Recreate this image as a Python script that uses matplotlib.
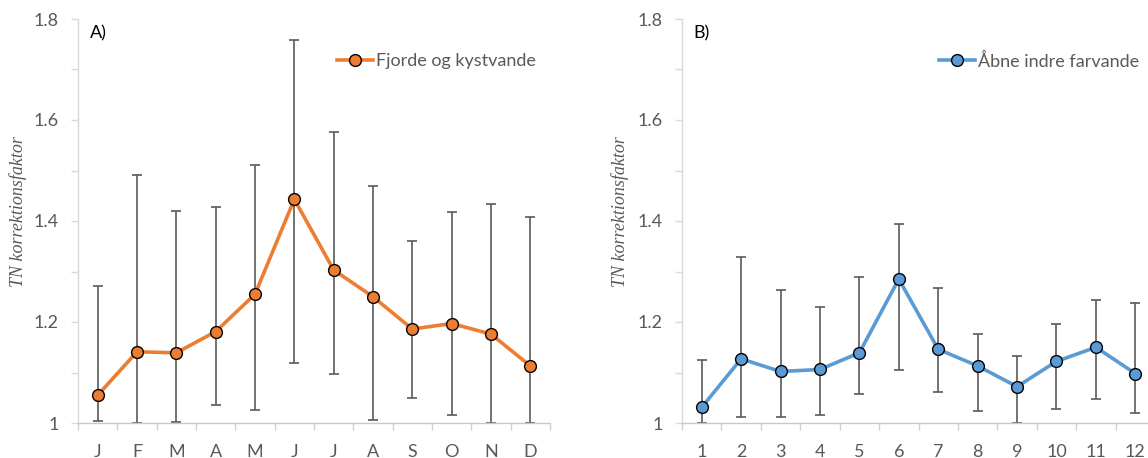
import numpy as np
import matplotlib
matplotlib.use("Agg")
import matplotlib.pyplot as plt
from matplotlib.ticker import MultipleLocator, FixedLocator, FuncFormatter

# TN correction factor per month, mean with lower/upper range
months_a = ['J', 'F', 'M', 'A', 'M', 'J', 'J', 'A', 'S', 'O', 'N', 'D']
fjord_mean = [1.055, 1.141, 1.139, 1.181, 1.255, 1.443, 1.303, 1.250, 1.186, 1.197, 1.176, 1.113]
fjord_hi = [1.271, 1.491, 1.420, 1.428, 1.511, 1.758, 1.576, 1.469, 1.360, 1.418, 1.434, 1.407]
fjord_lo = [1.003, 1.000, 1.002, 1.035, 1.025, 1.118, 1.098, 1.006, 1.049, 1.016, 1.000, 1.000]

months_b = ['1', '2', '3', '4', '5', '6', '7', '8', '9', '10', '11', '12']
open_mean = [1.031, 1.127, 1.102, 1.106, 1.139, 1.285, 1.146, 1.113, 1.072, 1.122, 1.150, 1.098]
open_hi = [1.124, 1.328, 1.263, 1.230, 1.289, 1.395, 1.267, 1.176, 1.133, 1.197, 1.244, 1.237]
open_lo = [1.000, 1.011, 1.011, 1.015, 1.057, 1.104, 1.061, 1.024, 1.000, 1.028, 1.048, 1.020]

ORANGE = '#ED7D31'
BLUE = '#5B9BD5'
TXT = '#595959'

plt.rcParams['font.family'] = ['Lato', 'DejaVu Sans']

W, H = 1148, 458
fig = plt.figure(figsize=(W / 100, H / 100), dpi=100)


def panel(x0, x1, cats, mean, lo, hi, color, name, tag, leg_x):
    ax = fig.add_axes([x0 / W, (H - 423) / H, (x1 - x0) / W, 404 / H])
    x = np.arange(len(cats))
    mean = np.array(mean)
    err = [mean - np.array(lo), np.array(hi) - mean]
    ax.errorbar(x, mean, yerr=err, fmt='none', ecolor='#5a5a5a', elinewidth=1.2,
                capsize=3.5, capthick=1.2, zorder=2)
    ax.plot(x, mean, color=color, lw=2.6, marker='o', ms=8.5, mfc=color,
            mec='black', mew=1.0, zorder=3, label=name)

    ax.set_xlim(-0.5, len(cats) - 0.5)
    ax.set_ylim(1.0, 1.8)

    # y axis: ticks every 0.1, labels every 0.2
    ax.yaxis.set_major_locator(MultipleLocator(0.2))
    ax.yaxis.set_minor_locator(MultipleLocator(0.1))
    ax.yaxis.set_major_formatter(FuncFormatter(lambda v, p: ('%.1f' % v).rstrip('0').rstrip('.')))
    ax.tick_params(axis='y', which='both', direction='out', length=5, width=1,
                   color='#d9d9d9', labelcolor=TXT, labelsize=13, pad=9)

    # x axis: category labels, tick marks between categories
    ax.set_xticks(x)
    ax.set_xticklabels(cats)
    ax.xaxis.set_minor_locator(FixedLocator(np.arange(-0.5, len(cats), 1.0)))
    ax.tick_params(axis='x', which='major', length=0, labelcolor=TXT, labelsize=13, pad=15)
    ax.tick_params(axis='x', which='minor', direction='out', length=5, width=1, color='#d0d0d0')

    for s in ['top', 'right']:
        ax.spines[s].set_visible(False)
    ax.spines['left'].set_color('#d9d9d9')
    ax.spines['bottom'].set_color('#c8c8c8')
    ax.spines['left'].set_linewidth(1)
    ax.spines['bottom'].set_linewidth(1)

    ax.text(0.025, 0.965, tag, transform=ax.transAxes, fontsize=13, color='black',
            ha='left', va='center')

    ax.legend(loc='center left', bbox_to_anchor=(leg_x, 0.896), frameon=False,
              fontsize=13, handlelength=2.0, handletextpad=0.15, borderpad=0,
              borderaxespad=0, labelcolor=TXT)
    return ax


panel(78, 550, months_a, fjord_mean, fjord_lo, fjord_hi, ORANGE,
      'Fjorde og kystvande', 'A)', 0.549)
panel(682, 1155, months_b, open_mean, open_lo, open_hi, BLUE,
      'Åbne indre farvande', 'B)', 0.543)

for xp in (18, 620):
    fig.text(xp / W, (H - 212) / H, 'TN korrektionsfaktor', rotation=90,
             ha='center', va='center', fontsize=13, color=TXT,
             family='Liberation Serif', style='italic')

fig.savefig('out.png', dpi=100)
